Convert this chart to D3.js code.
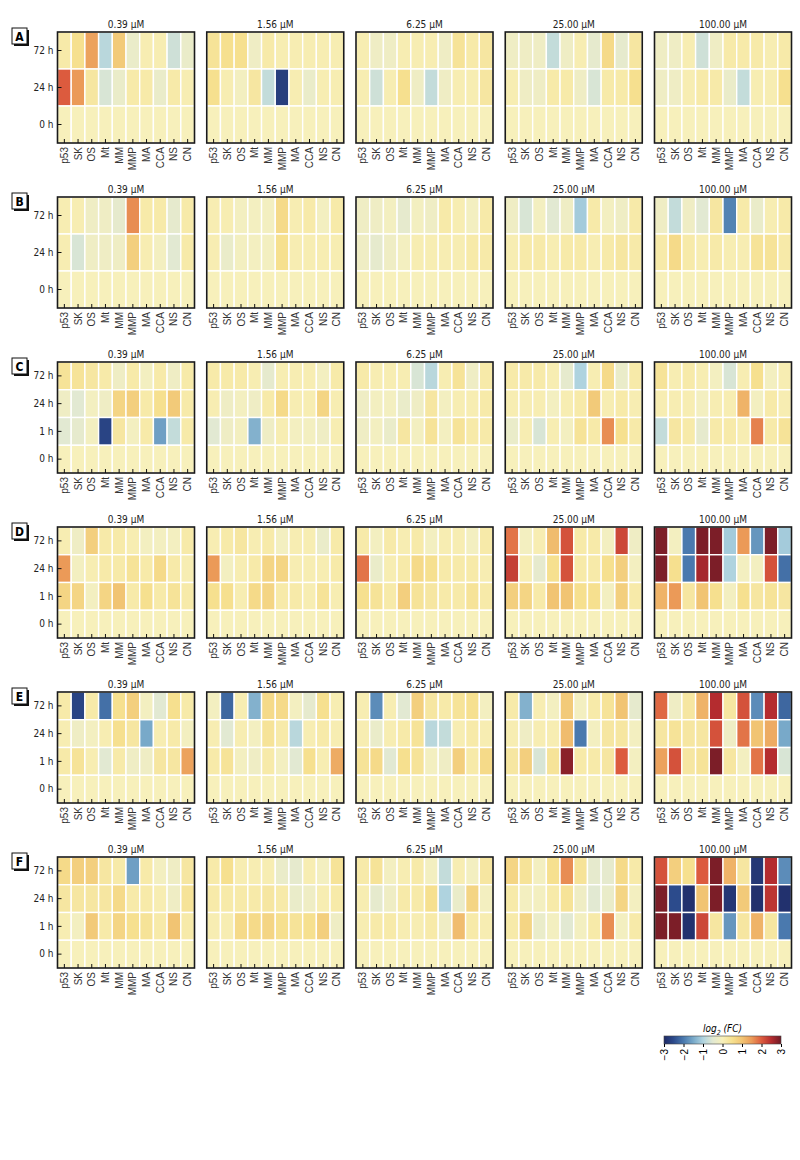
<!DOCTYPE html>
<html>
<head>
<meta charset="utf-8">
<script src="https://cdn.jsdelivr.net/npm/d3@7"></script>
<style>
  body { margin: 0; background: #fff; }
  svg { display: block; }
  .cond { font-family: "Liberation Sans Narrow", "DejaVu Sans Condensed", sans-serif; font-stretch: condensed; }
  .xlab { font-family: "Liberation Sans", Arial, sans-serif; font-size: 10px; }
</style>
</head>
<body>
<div id="chart"></div>
<script>
// panel letters, doses, markers, time points
const panels = ["A", "B", "C", "D", "E", "F"];
const concs = ["0.39 µM", "1.56 µM", "6.25 µM", "25.00 µM", "100.00 µM"];
const markers = ["p53", "SK", "OS", "Mt", "MM", "MMP", "MA", "CCA", "NS", "CN"];
const timesShort = ["72 h", "24 h", "0 h"];
const timesLong = ["72 h", "24 h", "1 h", "0 h"];
const legendTicks = [-3, -2, -1, 0, 1, 2, 3];

// log2(FC) per dose -> per time row -> per marker
const valuesA = [
  [[0.2, 0.5, 1.4, -0.9, 0.9, -0.3, 0.1, 0.1, -0.7, -0.3],
   [2.0, 1.5, 0.3, -0.6, -0.3, 0.2, 0.2, -0.3, 0.2, 0.1],
   [0, 0, 0, 0, 0, 0, 0, 0, 0, 0]],
  [[0.4, 0.5, 0.5, -0.2, 0.2, 0.1, 0.1, 0.1, 0.1, 0.1],
   [0.5, 0.1, -0.1, 0.3, -0.8, -2.7, 0.1, -0.3, 0.1, 0.1],
   [0, 0, 0, 0, 0, 0, 0, 0, 0, 0]],
  [[0.1, -0.2, -0.2, 0.1, 0.1, 0.1, -0.2, 0.4, 0.2, 0.3],
   [0.1, -0.7, 0.1, 0.5, -0.2, -0.8, -0.2, 0.1, 0.1, 0.3],
   [0, 0, 0, 0, 0, 0, 0, 0, 0, 0]],
  [[-0.2, -0.2, -0.2, -0.8, -0.2, 0.1, -0.4, 0.6, -0.4, 0.3],
   [0.1, -0.2, -0.2, 0.2, 0.2, -0.2, -0.6, 0.2, 0.2, 0.5],
   [0, 0, 0, 0, 0, 0, 0, 0, 0, 0]],
  [[-0.2, -0.2, 0.1, -0.7, -0.2, 0.2, 0.2, 0.2, 0.1, 0.2],
   [-0.2, -0.2, 0.1, 0.2, 0.2, -0.3, -0.8, 0.1, 0.1, 0.5],
   [0, 0, 0, 0, 0, 0, 0, 0, 0, 0]]
];
const valuesB = [
  [[0.1, 0.1, -0.2, -0.2, -0.4, 1.6, 0.2, 0.2, -0.4, 0.2],
   [0.1, -0.6, -0.2, -0.2, -0.2, 0.8, 0.1, -0.1, -0.5, 0.2],
   [0, 0, 0, 0, 0, 0, 0, 0, 0, 0]],
  [[0.1, 0.1, -0.1, -0.1, -0.1, 0.6, 0.1, 0.2, -0.1, 0.2],
   [0.1, -0.3, -0.1, -0.1, -0.1, 0.5, 0.1, 0.1, 0.1, 0.1],
   [0, 0, 0, 0, 0, 0, 0, 0, 0, 0]],
  [[-0.2, -0.2, -0.1, -0.4, -0.1, -0.2, 0.2, 0.1, -0.1, 0.2],
   [-0.2, -0.4, -0.2, -0.1, 0.1, 0.1, 0.1, 0.1, 0.2, 0.2],
   [0, 0, 0, 0, 0, 0, 0, 0, 0, 0]],
  [[-0.2, -0.6, -0.1, -0.5, -0.2, -1.1, 0.2, -0.1, -0.2, 0.2],
   [0.1, 0.2, 0.2, 0.1, 0.2, 0.2, 0.1, 0.2, 0.3, 0.2],
   [0, 0, 0, 0, 0, 0, 0, 0, 0, 0]],
  [[-0.2, -0.8, -0.2, -0.5, 0.3, -1.9, 0.2, -0.3, 0.1, 0.2],
   [0.2, 0.6, 0.2, 0.1, 0.2, 0.1, 0.1, 0.4, 0.4, 0.2],
   [0, 0, 0, 0, 0, 0, 0, 0, 0, 0]]
];
const valuesC = [
  [[0.4, 0.4, 0.3, 0.2, -0.2, 0.2, -0.1, 0.2, -0.2, 0.2],
   [-0.2, -0.5, -0.1, -0.2, 0.7, 0.8, 0.2, 0.5, 0.9, 0.2],
   [-0.5, -0.4, -0.1, -2.6, 0.3, -0.1, 0.2, -1.6, -0.8, 0.2],
   [0, 0, 0, 0, 0, 0, 0, 0, 0, 0]],
  [[0.2, 0.2, 0.2, 0.1, -0.4, 0.1, 0.1, 0.1, -0.1, 0.2],
   [0.1, -0.2, -0.1, -0.2, 0.2, 0.6, 0.1, 0.1, 0.7, 0.1],
   [-0.5, -0.2, -0.1, -1.4, -0.2, 0.1, -0.1, -0.1, -0.2, 0.1],
   [0, 0, 0, 0, 0, 0, 0, 0, 0, 0]],
  [[0.2, 0.1, 0.1, 0.1, -0.6, -0.9, 0.1, 0.4, -0.2, 0.2],
   [-0.2, -0.1, -0.1, -0.3, -0.2, 0.3, -0.1, 0.1, 0.1, 0.2],
   [-0.2, -0.1, -0.3, 0.3, -0.1, 0.4, -0.1, 0.4, 0.2, 0.2],
   [0, 0, 0, 0, 0, 0, 0, 0, 0, 0]],
  [[0.2, 0.2, 0.2, 0.1, -0.4, -1.0, 0.1, 0.6, -0.3, 0.2],
   [0.1, 0.1, 0.1, -0.1, 0.1, 0.2, 0.9, 0.1, 0.2, 0.1],
   [-0.3, 0.1, -0.6, 0.1, -0.1, 0.4, 0.2, 1.6, 0.5, 0.2],
   [0, 0, 0, 0, 0, 0, 0, 0, 0, 0]],
  [[0.4, 0.1, 0.2, 0.1, -0.1, -0.6, 0.1, 0.5, -0.1, 0.1],
   [0.1, 0.1, 0.1, -0.1, 0.1, 0.1, 1.2, -0.1, 0.2, 0.1],
   [-0.8, 0.3, 0.2, -0.4, 0.2, 0.2, 0.1, 1.7, 0.2, 0.4],
   [0, 0, 0, 0, 0, 0, 0, 0, 0, 0]]
];
const valuesD = [
  [[0.1, -0.2, 0.8, 0.2, 0.2, 0.1, -0.1, -0.1, -0.1, 0.2],
   [1.5, -0.1, 0.1, 0.2, 0.2, 0.4, 0.2, 0.6, 0.2, 0.1],
   [0.7, 0.7, -0.1, 0.7, 1.0, 0.2, 0.5, 0.2, 0.4, 0.2],
   [0, 0, 0, 0, 0, 0, 0, 0, 0, 0]],
  [[0.1, 0.2, 0.3, 0.1, 0.2, -0.1, 0.1, 0.1, -0.3, 0.2],
   [1.5, -0.1, 0.1, 0.2, 0.7, 0.7, 0.1, 0.1, 0.1, 0.2],
   [0.5, 0.5, 0.1, 0.6, 0.7, 0.2, 0.2, 0.1, 0.4, 0.1],
   [0, 0, 0, 0, 0, 0, 0, 0, 0, 0]],
  [[0.2, -0.1, 0.2, 0.1, 0.2, -0.1, 0.1, 0.1, -0.1, 0.2],
   [1.8, -0.3, 0.1, 0.2, 0.6, 0.5, 0.2, 0.2, 0.2, 0.1],
   [0.5, 0.4, 0.2, 0.8, 0.4, 0.3, 0.2, 0.2, 0.4, 0.2],
   [0, 0, 0, 0, 0, 0, 0, 0, 0, 0]],
  [[1.8, -0.1, 0.1, 1.1, 2.1, 0.2, 0.2, -0.1, 2.2, -0.2],
   [2.3, 0.1, -0.4, 0.5, 2.1, 0.2, 0.2, 0.5, 0.8, -0.1],
   [0.8, 0.7, 0.2, 1.0, 1.0, 0.5, 0.5, -0.1, 0.8, 0.2],
   [0, 0, 0, 0, 0, 0, 0, 0, 0, 0]],
  [[2.9, -0.1, -2.0, 2.9, 2.9, -1.1, 1.5, -1.7, 2.9, -1.1],
   [2.9, 0.5, -2.0, 2.6, 2.9, -1.0, -0.1, -0.1, 2.1, -2.1],
   [1.2, 1.5, 0.3, 1.0, 0.5, -0.1, 0.5, 0.3, 0.4, 0.3],
   [0, 0, 0, 0, 0, 0, 0, 0, 0, 0]]
];
const valuesE = [
  [[0.2, -2.6, 0.2, -2.1, 0.5, 0.8, -0.1, -0.5, 0.5, 0.2],
   [0.1, -0.2, -0.1, 0.1, 0.5, 0.3, -1.5, 0.1, 0.2, -0.1],
   [0.2, 0.4, 0.1, -0.5, 0.2, -0.2, -0.2, 0.3, 0.3, 1.4],
   [0, 0, 0, 0, 0, 0, 0, 0, 0, 0]],
  [[-0.1, -2.2, 0.1, -1.4, 0.6, 0.6, -0.1, -0.4, 0.5, 0.1],
   [0.1, -0.5, 0.1, -0.1, 0.4, 0.2, -0.9, 0.1, 0.2, 0.1],
   [0.2, 0.4, -0.1, -0.2, 0.2, -0.1, -0.5, 0.5, 0.1, 1.3],
   [0, 0, 0, 0, 0, 0, 0, 0, 0, 0]],
  [[0.1, -1.8, 0.1, -0.5, 0.8, 0.3, 0.2, 0.4, 0.5, -0.1],
   [0.1, -0.3, 0.1, 0.2, 0.4, -0.9, -0.8, 0.1, 0.2, 0.1],
   [0.4, 0.6, -0.5, 0.5, 0.4, -0.1, -0.2, 0.8, 0.2, 0.6],
   [0, 0, 0, 0, 0, 0, 0, 0, 0, 0]],
  [[0.2, -1.4, 0.1, -0.1, 0.9, -0.1, 0.2, 0.4, 1.0, -0.4],
   [0.1, -0.2, 0.1, 0.1, 1.1, -2.0, -0.1, 0.3, 0.3, -0.1],
   [0.3, 0.8, -0.6, 0.4, 2.8, 0.2, 0.2, 0.3, 2.0, -0.1],
   [0, 0, 0, 0, 0, 0, 0, 0, 0, 0]],
  [[1.9, -0.2, 0.3, 1.2, 2.5, 0.3, 2.1, -1.8, 2.5, -2.2],
   [0.3, 0.4, 0.3, 0.3, 2.1, -0.2, 1.8, 1.0, 1.3, -1.5],
   [1.4, 2.1, 0.3, 0.4, 2.9, 0.3, -0.1, 1.8, 2.5, -0.6],
   [0, 0, 0, 0, 0, 0, 0, 0, 0, 0]]
];
const valuesF = [
  [[0.6, 0.8, 0.8, 0.3, 0.2, -1.6, 0.2, -0.1, -0.2, 0.3],
   [0.3, 0.3, 0.3, 0.3, 0.6, 0.2, 0.2, 0.1, -0.2, 0.4],
   [0.1, -0.1, 0.9, 0.2, 0.7, 0.5, 0.4, 0.2, 1.0, 0.2],
   [0, 0, 0, 0, 0, 0, 0, 0, 0, 0]],
  [[0.2, 0.5, 0.1, 0.1, 0.1, -0.3, -0.4, 0.1, -0.1, 0.4],
   [0.2, 0.2, 0.2, 0.2, 0.3, 0.2, -0.3, -0.2, 0.1, 0.2],
   [0.1, 0.1, 0.6, 0.6, 0.7, 0.5, 0.4, 0.5, 0.8, -0.2],
   [0, 0, 0, 0, 0, 0, 0, 0, 0, 0]],
  [[0.2, 0.4, -0.1, 0.1, 0.2, -0.1, -0.8, 0.1, -0.1, 0.3],
   [0.1, -0.4, -0.2, 0.2, 0.2, 0.5, -1.0, -0.3, 0.7, -0.1],
   [0.1, 0.2, 0.2, 0.1, 0.1, 0.2, -0.2, 1.1, 0.2, 0.1],
   [0, 0, 0, 0, 0, 0, 0, 0, 0, 0]],
  [[0.7, 0.4, -0.1, 0.5, 1.6, 0.4, -0.4, -0.4, 0.6, 0.2],
   [0.2, -0.1, -0.1, 0.2, 0.4, -0.2, -0.5, -0.3, 0.7, -0.1],
   [0.2, 0.7, -0.3, -0.1, -0.5, -0.1, 0.2, 1.6, -0.1, 0.2],
   [0, 0, 0, 0, 0, 0, 0, 0, 0, 0]],
  [[2.1, 0.8, 0.5, 2.0, 2.9, 1.2, 0.3, -2.8, 2.5, -1.8],
   [2.9, -2.5, -2.9, 1.0, 2.9, -2.8, 0.9, -2.9, 2.4, -2.9],
   [2.9, 2.9, -2.9, 2.2, 0.3, -1.7, 0.3, 1.2, 0.3, -2.0],
   [0, 0, 0, 0, 0, 0, 0, 0, 0, 0]]
];

const panelValues = [valuesA, valuesB, valuesC, valuesD, valuesE, valuesF];
const panelTimes = [timesShort, timesShort, timesLong, timesLong, timesLong, timesLong];

// diverging scale, blue (down) -> pale yellow -> maroon (up)
const colorStops = [-3, -2.5, -2, -1.5, -1, -0.5, 0, 0.5, 1, 1.5, 2, 2.5, 3];
const colorRange = ["#1f2a66", "#2c4b8c", "#4a79ae", "#78a9c9", "#afd3df", "#e2e9d2",
  "#f7f0bb", "#f6e08f", "#f1c473", "#eb9a58", "#dc5b3e", "#b42c2f", "#6e1a26"];
const color = d3.scaleLinear().domain(colorStops).range(colorRange).clamp(true);

const width = 800, height = 1160;
const plotW = 137, plotH = 111;
const colX = d => 57.5 + d * 149.25;
const rowY = r => 32 + r * 165;

let svg = d3.select("#chart")
  .append("svg")
  .attr("width", width)
  .attr("height", height);

let x = d3.scaleBand().domain(markers).range([0, plotW]);

panels.forEach(function (letter, r) {
  let times = panelTimes[r];
  let y = d3.scaleBand().domain(times).range([0, plotH]);
  let top = rowY(r);

  // panel letter box with drop shadow
  let lab = svg.append("g").attr("transform", `translate(12, ${top - 4})`);
  lab.append("rect").attr("x", 2).attr("y", 2).attr("width", 15).attr("height", 16).attr("fill", "#111");
  lab.append("rect").attr("width", 15).attr("height", 16).attr("fill", "#fff").attr("stroke", "#111").attr("stroke-width", 1);
  lab.append("text")
    .attr("class", "cond")
    .attr("x", 7.5).attr("y", 12.5)
    .attr("text-anchor", "middle")
    .attr("font-size", 12).attr("font-weight", "bold")
    .text(letter);

  concs.forEach(function (conc, c) {
    let g = svg.append("g").attr("transform", `translate(${colX(c)}, ${top})`);
    let vals = panelValues[r][c];

    let cells = [];
    vals.forEach((row, i) => row.forEach((v, j) => cells.push({ t: times[i], m: markers[j], v: v })));

    g.selectAll("rect.cell")
      .data(cells)
      .enter().append("rect")
      .attr("class", "cell")
      .attr("x", d => x(d.m))
      .attr("y", d => y(d.t))
      .attr("width", x.bandwidth())
      .attr("height", y.bandwidth())
      .attr("fill", d => color(d.v))
      .attr("stroke", "#fff")
      .attr("stroke-width", 1.4);

    // frame
    g.append("rect")
      .attr("width", plotW).attr("height", plotH)
      .attr("fill", "none")
      .attr("stroke", "#1a1a1a")
      .attr("stroke-width", 1.6);

    // title
    g.append("text")
      .attr("class", "cond")
      .attr("x", plotW / 2).attr("y", -4)
      .attr("text-anchor", "middle")
      .attr("font-size", 10)
      .attr("fill", "#222")
      .text(conc);

    // x axis, ticks pointing inward
    let xa = g.append("g")
      .attr("transform", `translate(0, ${plotH})`)
      .call(d3.axisBottom(x).tickSize(-4).tickSizeOuter(0));
    xa.select(".domain").remove();
    xa.selectAll("line").attr("stroke", "#111");
    xa.selectAll("text")
      .attr("class", "xlab")
      .attr("transform", "rotate(-90)")
      .attr("x", -4).attr("y", 0).attr("dy", "0.35em")
      .attr("font-size", null).attr("font-family", null)
      .style("text-anchor", "end")
      .attr("fill", "#333");

    // y axis only on first dose
    if (c === 0) {
      let ya = g.append("g")
        .call(d3.axisLeft(y).tickSize(-4).tickSizeOuter(0).tickPadding(4));
      ya.select(".domain").remove();
      ya.selectAll("line").attr("stroke", "#111");
      ya.selectAll("text")
        .attr("class", "cond")
        .attr("font-family", null)
        .attr("font-size", 10)
        .attr("fill", "#222");
    }
  });
});

// legend
let legX = 664, legY = 1036, legW = 117, legH = 8;
let defs = svg.append("defs");
let grad = defs.append("linearGradient").attr("id", "legendGrad");
grad.selectAll("stop")
  .data(colorStops)
  .enter().append("stop")
  .attr("offset", d => ((d + 3) / 6 * 100) + "%")
  .attr("stop-color", d => color(d));

let leg = svg.append("g").attr("transform", `translate(${legX}, ${legY})`);
leg.append("rect")
  .attr("width", legW).attr("height", legH)
  .attr("fill", "url(#legendGrad)")
  .attr("stroke", "#444").attr("stroke-width", 0.6);

let lt = leg.append("text")
  .attr("class", "cond")
  .attr("x", legW / 2).attr("y", -4)
  .attr("text-anchor", "middle")
  .attr("font-size", 10)
  .attr("font-style", "italic");
lt.append("tspan").text("log");
lt.append("tspan").attr("font-size", 7).attr("dy", 3).text("2");
lt.append("tspan").attr("dy", -3).text(" (FC)");

let lx = d3.scaleLinear().domain([-3, 3]).range([0, legW]);
let la = leg.append("g")
  .attr("transform", `translate(0, ${legH})`)
  .call(d3.axisBottom(lx).tickValues(legendTicks).tickSize(3).tickFormat(d3.format("d")));
la.select(".domain").remove();
la.selectAll("text")
  .attr("class", "xlab")
  .attr("font-size", null).attr("font-family", null)
  .attr("transform", "rotate(-90)")
  .attr("x", -5).attr("y", 0).attr("dy", "0.35em")
  .style("text-anchor", "end");
</script>
</body>
</html>
